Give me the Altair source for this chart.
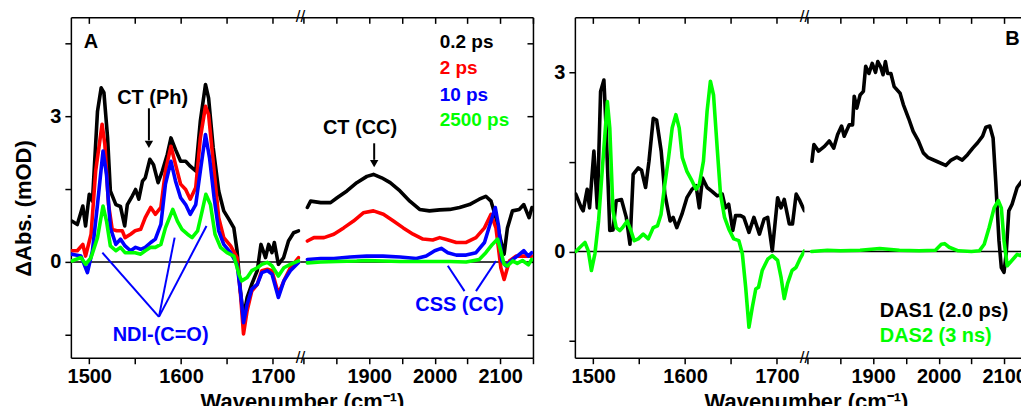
import altair as alt
import pandas as pd

FONT = "Liberation Sans"
BLACK, RED, BLUE, GREEN = "#000000", "#ff0000", "#0000ff", "#00ff00"

# ---------------- Panel A, 1480-1730 cm-1 ----------------
A_L_K_WN = [1481, 1487, 1493, 1496, 1500, 1503.5, 1509, 1513, 1516, 1520, 1523, 1529, 1534, 1538.6, 1541.5, 1547, 1550.5, 1554, 1558, 1561, 1566, 1570, 1575, 1579.6, 1585, 1589, 1594, 1599.5, 1605, 1610, 1616, 1621, 1626.6, 1630, 1635, 1641, 1646.5, 1652, 1657.5, 1661, 1664.7, 1668, 1672, 1677, 1683, 1687, 1692, 1695.4, 1699, 1701.6, 1706, 1711.7, 1717, 1722.6, 1728]
A_L_K = [0.84, 0.77, 1.15, 0.74, 1.39, 1.25, 3.1, 3.58, 3.48, 2.55, 1.46, 1.18, 1.14, 0.74, 1.18, 1.36, 1.49, 1.29, 1.66, 1.73, 2.11, 2.0, 1.63, 1.87, 2.21, 2.55, 2.31, 2.07, 2.07, 1.97, 1.87, 2.9, 3.65, 3.37, 2.35, 1.46, 1.05, 0.88, 0.70, 0.23, -0.6, -1.14, -0.73, -0.46, -0.18, 0.36, 0.09, 0.36, 0.19, 0.40, -0.05, 0.09, 0.43, 0.60, 0.64]

A_L_R_WN = [1481, 1487, 1493, 1496, 1502, 1507, 1514, 1517, 1521, 1525, 1530, 1536, 1539, 1545, 1550, 1556, 1561, 1567, 1572, 1578, 1583, 1589, 1594, 1599.5, 1605, 1610, 1616, 1621, 1626.6, 1630, 1636, 1641, 1646.5, 1654, 1661, 1665, 1668, 1672, 1677, 1683, 1688, 1694, 1699, 1706, 1712, 1719, 1728]
A_L_R = [0.23, 0.23, 0.36, 0.12, 0.57, 1.87, 2.83, 2.42, 1.18, 0.67, 0.64, 0.64, 0.50, 0.57, 0.64, 0.67, 0.91, 1.12, 0.98, 1.12, 1.87, 2.38, 2.0, 1.6, 1.49, 1.29, 1.53, 2.55, 3.2, 3.03, 1.87, 0.91, 0.50, 0.33, 0.09, -0.73, -1.48, -1.0, -0.6, -0.46, -0.18, -0.15, -0.18, -0.66, -0.39, -0.12, 0.09]

A_L_B_WN = [1481, 1491, 1498, 1503.5, 1509, 1515, 1518.8, 1523, 1529, 1534, 1539, 1545, 1550.5, 1556, 1561, 1567, 1572, 1578, 1583, 1589, 1594, 1599.5, 1605, 1610, 1616, 1621, 1626.6, 1631, 1636, 1641, 1646.5, 1654, 1661, 1665, 1668, 1672, 1677, 1683, 1688, 1694, 1699, 1706, 1712, 1719, 1728]
A_L_B = [0.16, 0.12, -0.22, 0.23, 1.18, 2.28, 1.80, 0.70, 0.36, 0.47, 0.33, 0.23, 0.30, 0.26, 0.30, 0.40, 0.47, 0.77, 1.60, 2.07, 1.66, 1.32, 1.18, 0.98, 1.18, 1.87, 2.62, 2.14, 1.32, 0.64, 0.36, 0.19, -0.05, -0.66, -1.25, -0.87, -0.56, -0.46, -0.22, -0.18, -0.25, -0.73, -0.39, -0.18, -0.01]

A_L_G_WN = [1481, 1491, 1496, 1502, 1509, 1515, 1518.8, 1523, 1529, 1534, 1539, 1545, 1550, 1556, 1561, 1567, 1572, 1578, 1583, 1591, 1596, 1601, 1607, 1612, 1618, 1623, 1627, 1632, 1637, 1643, 1650, 1657.5, 1663, 1666, 1672, 1677, 1683, 1688, 1694, 1699, 1706, 1712, 1719, 1728]
A_L_G = [0.02, 0.09, -0.05, 0.09, 0.50, 1.15, 0.84, 0.33, 0.23, 0.30, 0.19, 0.19, 0.19, 0.16, 0.23, 0.30, 0.30, 0.36, 0.70, 1.08, 0.84, 0.67, 0.57, 0.50, 0.64, 1.05, 1.39, 1.18, 0.57, 0.30, 0.19, 0.12, -0.25, -0.39, -0.32, -0.18, -0.12, -0.05, -0.01, -0.08, -0.29, -0.12, -0.05, 0.02]

# ---------------- Panel A, 1795-2150 cm-1 ----------------
A_R_K_WN = [1805.6, 1810.6, 1826, 1841, 1851, 1866, 1881, 1896.5, 1906.5, 1919, 1932, 1947, 1962, 1977, 1992, 2007.6, 2023, 2038, 2053, 2068, 2078, 2086, 2093.5, 2101, 2106, 2111, 2118.7, 2129, 2136, 2144, 2148.5]
A_R_K = [1.12, 1.25, 1.22, 1.22, 1.32, 1.46, 1.63, 1.76, 1.80, 1.73, 1.63, 1.46, 1.25, 1.08, 1.05, 1.07, 1.08, 1.12, 1.18, 1.29, 1.35, 1.25, 0.91, 0.43, 0.16, 0.70, 1.05, 1.08, 1.18, 0.91, 1.12]

A_R_R_WN = [1805.6, 1815.6, 1831, 1846, 1861, 1876, 1891, 1906.5, 1921.7, 1937, 1952, 1967, 1982, 1997, 2007.6, 2018, 2033, 2048, 2063, 2076, 2086, 2093.5, 2101, 2106, 2114, 2124, 2134, 2148]
A_R_R = [0.43, 0.50, 0.50, 0.57, 0.70, 0.84, 1.01, 1.05, 0.98, 0.84, 0.70, 0.57, 0.47, 0.45, 0.50, 0.46, 0.40, 0.40, 0.50, 0.70, 0.98, 0.70, -0.12, -0.36, 0.02, 0.12, 0.12, 0.12]

A_R_B_WN = [1805.6, 1826, 1846, 1871, 1896, 1921, 1947, 1972, 1987, 2000, 2010, 2020, 2033, 2048, 2063, 2076, 2086, 2092.5, 2097.5, 2102.6, 2108.6, 2119, 2126, 2136, 2143, 2148]
A_R_B = [0.05, 0.07, 0.07, 0.10, 0.12, 0.12, 0.10, 0.07, 0.12, 0.23, 0.28, 0.19, 0.14, 0.14, 0.19, 0.40, 0.84, 1.12, 0.74, 0.02, -0.08, 0.05, 0.12, 0.23, 0.12, 0.19]

A_R_G_WN = [1805.6, 1826, 1851, 1881, 1896, 1921, 1947, 1972, 1997, 2023, 2048, 2068, 2078, 2088, 2096, 2101, 2106, 2111, 2119, 2126, 2134, 2143, 2148]
A_R_G = [-0.02, 0.0, 0.01, 0.02, 0.03, 0.02, 0.01, 0.01, 0.01, 0.01, 0.0, 0.05, 0.19, 0.36, 0.47, 0.22, -0.05, -0.08, 0.02, -0.03, 0.03, -0.06, 0.05]

# ---------------- Panel B, 1480-1730 cm-1 ----------------
B_L_K_WN = [1481, 1487, 1489, 1493.4, 1496, 1500.7, 1504.4, 1508, 1511.6, 1514, 1518, 1521.5, 1525, 1530.7, 1536, 1540, 1543.5, 1549, 1552.6, 1557, 1560.7, 1565.4, 1569, 1574, 1578, 1583.7, 1587, 1591, 1596.5, 1602, 1607.5, 1612, 1615.5, 1619, 1624, 1629, 1635, 1640.5, 1644, 1647.5, 1652, 1655, 1660.5, 1664, 1669.6, 1675, 1681, 1686, 1690, 1695, 1700.8, 1704.5, 1708, 1713.5, 1717, 1721, 1725, 1730]
B_L_K = [0.96, 0.73, 0.68, 1.04, 0.73, 1.68, 0.73, 2.68, 2.87, 2.07, 0.35, 0.36, 0.85, 0.87, 0.57, 0.12, 1.29, 1.40, 1.36, 1.07, 1.51, 2.23, 2.20, 1.68, 0.96, 0.51, 0.57, 0.40, 0.62, 0.90, 1.04, 1.10, 0.73, 1.23, 1.07, 1.01, 0.93, 0.96, 0.73, 0.79, 0.35, 0.60, 0.60, 0.57, 0.32, 0.57, 0.29, 0.54, 0.57, 0.01, 0.90, 0.73, 0.87, 0.46, 0.46, 0.96, 0.85, 0.68]

B_L_G_WN = [1481, 1487, 1491, 1494.6, 1498, 1501.8, 1505.8, 1510.5, 1515.4, 1518, 1521.5, 1525, 1529, 1532, 1537, 1541, 1544.6, 1549, 1554.4, 1560, 1565.4, 1570, 1573.8, 1577.5, 1582, 1586, 1590, 1593.6, 1597, 1602, 1607.6, 1612, 1615.5, 1620, 1624, 1627.6, 1631, 1635, 1638.6, 1643, 1647.8, 1653, 1658.6, 1662.4, 1666, 1669.6, 1673.3, 1677, 1680, 1684, 1690, 1695, 1700.8, 1704.5, 1708, 1711.6, 1716.5, 1720.8, 1725, 1730]
B_L_G = [0.0, 0.09, 0.15, 0.01, -0.32, -0.04, 0.51, 1.51, 2.51, 2.07, 0.68, 0.40, 0.35, 0.40, 0.51, 0.35, 0.18, 0.21, 0.29, 0.21, 0.40, 0.43, 0.62, 1.07, 1.57, 2.07, 2.29, 2.07, 1.57, 1.34, 1.18, 1.04, 1.12, 1.51, 2.35, 2.85, 2.62, 1.73, 0.96, 0.57, 0.37, 0.21, 0.18, -0.04, -0.60, -1.27, -0.93, -0.63, -0.60, -0.32, -0.13, -0.07, -0.15, -0.43, -0.79, -0.54, -0.32, -0.27, -0.13, 0.01]

# ---------------- Panel B, 1795-2150 cm-1 ----------------
B_R_K_WN = [1806.5, 1809.5, 1816.6, 1825.6, 1833, 1839.7, 1845.7, 1851.7, 1855.7, 1863.4, 1868.5, 1871, 1875, 1880, 1885, 1888.5, 1893.5, 1898.5, 1903.5, 1907, 1911, 1915, 1918.6, 1922, 1927, 1932, 1941, 1946, 1954, 1961, 1969, 1976.5, 1984, 1996.5, 2010.7, 2019, 2027.7, 2036, 2044, 2052, 2059.4, 2067, 2072, 2078, 2083, 2087, 2092, 2095.6, 2099.7, 2103, 2107, 2112, 2119.7, 2127, 2135, 2145]
B_R_K = [1.51, 1.79, 1.68, 1.76, 1.85, 1.73, 1.96, 2.10, 1.93, 2.12, 2.12, 2.60, 2.40, 2.62, 2.68, 3.10, 2.98, 3.15, 3.00, 3.18, 3.10, 2.96, 3.18, 2.98, 2.98, 2.76, 2.65, 2.46, 2.23, 2.01, 1.85, 1.65, 1.57, 1.51, 1.44, 1.53, 1.58, 1.53, 1.62, 1.73, 1.82, 1.93, 2.08, 2.10, 1.90, 1.18, 0.18, -0.27, -0.35, -0.04, 0.68, 0.79, 1.07, 1.18, 1.26, 1.30]

B_R_G_WN = [1806, 1830, 1850, 1880, 1910, 1940, 1970, 1995, 2004, 2009, 2016, 2030, 2050, 2062, 2069.5, 2077, 2084.6, 2091, 2095.6, 2099.7, 2104.6, 2111, 2119.7, 2124.5, 2132, 2140]
B_R_G = [0.0, 0.02, 0.01, 0.02, 0.05, 0.02, 0.01, 0.02, 0.12, 0.13, 0.07, 0.01, 0.0, 0.01, 0.12, 0.40, 0.73, 0.85, 0.73, 0.18, -0.24, -0.16, -0.05, -0.07, 0.0, 0.02]

# ---------------- texts ----------------
LEGEND_TEXT = ["0.2 ps", "2 ps", "10 ps", "2500 ps"]
LEGEND_COLOR = [BLACK, RED, BLUE, GREEN]
LEGEND_Y = [4.40, 3.86, 3.31, 2.79]
DAS_TEXT = ["DAS1 (2.0 ps)", "DAS2 (3 ns)"]
DAS_COLOR = [BLACK, GREEN]
DAS_Y = [-1.09, -1.52]

# ---------------- geometry ----------------
H = 341
WL, WR = 230, 233
GAP = 42
XL = [1480, 1730]
XR = [1795, 2150]
YA = [-1.97, 5.03]
YB = [-1.78, 3.92]
TICK_L = [1500, 1550, 1600, 1650, 1700]
TICK_R = [1800, 1850, 1900, 1950, 2000, 2050, 2100, 2150]
YT_A = [-1.5, 0, 1.5, 3, 4.5]
YT_B = [-1.5, 0, 1.5, 3]
XTITLE = "Wavenumber (cm\u207b\u00b9)"

common = dict(domainColor="black", domainWidth=1.5, tickColor="black", tickWidth=1.5,
              grid=False, labelColor="black", labelFont=FONT, labelFontSize=20,
              labelFontWeight="bold")


def x_bottom(vals, with_title):
    kw = dict(common, values=vals, format="d", tickSize=6, labelPadding=3, labelAngle=0,
              labelFlush=False, labelOverlap=False,
              labelExpr="datum.value % 100 == 0 && datum.value != 1800 ? datum.label : ''")
    if with_title:
        kw.update(title=XTITLE, titleX=(WL + WR) / 2, titleY=51, titleBaseline="alphabetic",
                  titleAlign="center", titleAngle=0, titleFont=FONT, titleFontSize=22,
                  titleFontWeight="bold", titleColor="black")
    else:
        kw.update(title=None)
    return alt.Axis(**kw)


def x_top(vals):
    return alt.Axis(**dict(common, orient="bottom", offset=-H, values=vals, labels=False,
                           tickSize=6, title=None))


def y_left(vals, with_title):
    kw = dict(common, values=vals, tickSize=6, labelPadding=4,
              labelExpr="datum.value == 0 ? '0' : (datum.value == 3 ? '3' : '')")
    if with_title:
        kw.update(title="\u0394Abs. (mOD)", titleX=-35, titleY=191, titleAngle=270,
                  titleBaseline="bottom", titleAlign="center", titleFont=FONT,
                  titleFontSize=22, titleFontWeight="bold", titleColor="black")
    else:
        kw.update(title=None)
    return alt.Axis(**kw)


def y_right(vals, W):
    return alt.Axis(**dict(common, orient="left", offset=-W, values=vals, labels=False,
                           tickSize=6, title=None))


def df(wn, v):
    return pd.DataFrame({"wn": wn, "v": v})


def texts(xs, ys, ts, cs):
    return pd.DataFrame({"x": xs, "y": ys, "t": ts, "c": cs})


def segment(series, xdom, ydom, W, ticks, yticks, left=False, ytitle=False, right=False,
            xtitle=False, brk=False, extra=None):
    xs = alt.Scale(domain=xdom, nice=False, zero=False)
    ys = alt.Scale(domain=ydom, nice=False, zero=False)
    layers = [alt.Chart(pd.DataFrame({"z": [0]})).mark_rule(color="black", strokeWidth=1.5)
              .encode(y=alt.Y("z:Q", scale=ys, axis=None))]
    for i, (wn, v, col) in enumerate(series):
        layers.append(
            alt.Chart(df(wn, v)).mark_line(color=col, strokeWidth=3.6, clip=True,
                                           strokeJoin="round", strokeCap="round")
            .encode(x=alt.X("wn:Q", scale=xs, axis=x_bottom(ticks, xtitle) if i == 0 else None),
                    y=alt.Y("v:Q", scale=ys,
                            axis=y_left(yticks, ytitle) if (i == 0 and left) else None)))
    wn0, v0, _ = series[0]
    layers.append(
        alt.Chart(df(wn0, v0)).mark_point(opacity=0)
        .encode(x=alt.X("wn:Q", scale=xs, axis=x_top(ticks)),
                y=alt.Y("v:Q", scale=ys, axis=y_right(yticks, W) if right else None)))
    if brk:
        layers.append(
            alt.Chart(texts([xdom[1], xdom[1]], [ydom[1], ydom[0]], ["//", "//"], [BLACK, BLACK]))
            .mark_text(font=FONT, fontSize=17, baseline="middle", align="center", color="black")
            .encode(x=alt.X("x:Q", scale=xs, axis=None), y=alt.Y("y:Q", scale=ys, axis=None),
                    text="t:N"))
    for mk in (extra or []):
        layers.append(mk(xs, ys))
    return (alt.layer(*layers)
            .resolve_axis(x="independent", y="independent")
            .properties(width=W, height=H,
                        view=alt.ViewBackground(stroke="transparent", strokeWidth=0)))


def label_layer(d, size=20, align="center"):
    def f(xs, ys):
        return (alt.Chart(d).mark_text(font=FONT, fontSize=size, fontWeight="bold",
                                       align=align, baseline="alphabetic")
                .encode(x=alt.X("x:Q", scale=xs, axis=None), y=alt.Y("y:Q", scale=ys, axis=None),
                        text="t:N", color=alt.Color("c:N", scale=None)))
    return f


def seg_layer(x, y, x2, y2, color, width=2.0):
    d = pd.DataFrame({"x": x, "y": y, "x2": x2, "y2": y2})

    def f(xs, ys):
        return (alt.Chart(d).mark_rule(color=color, strokeWidth=width)
                .encode(x=alt.X("x:Q", scale=xs, axis=None), y=alt.Y("y:Q", scale=ys, axis=None),
                        x2="x2:Q", y2="y2:Q"))
    return f


def head_layer(x, y):
    d = pd.DataFrame({"x": [x], "y": [y]})

    def f(xs, ys):
        return (alt.Chart(d).mark_point(shape="triangle-down", filled=True, size=70,
                                        color="black", opacity=1, strokeWidth=0)
                .encode(x=alt.X("x:Q", scale=xs, axis=None), y=alt.Y("y:Q", scale=ys, axis=None)))
    return f


A1 = segment(
    [(A_L_K_WN, A_L_K, BLACK), (A_L_R_WN, A_L_R, RED), (A_L_B_WN, A_L_B, BLUE), (A_L_G_WN, A_L_G, GREEN)],
    XL, YA, WL, TICK_L, YT_A, left=True, ytitle=True, xtitle=True, brk=True,
    extra=[
        label_layer(texts([1494], [4.39], ["A"], [BLACK]), align="left"),
        label_layer(texts([1569], [3.24], ["CT (Ph)"], [BLACK])),
        seg_layer([1565], [3.16], [1565], [2.5], BLACK),
        head_layer(1565, 2.42),
        seg_layer([1575.9, 1575.9, 1575.9], [-1.13, -1.13, -1.13],
                  [1514.3, 1593, 1627.7], [0.19, 0.50, 0.74], BLUE),
        label_layer(texts([1577.7], [-1.62], ["NDI-(C=O)"], [BLUE])),
    ])

A2 = segment(
    [(A_R_K_WN, A_R_K, BLACK), (A_R_R_WN, A_R_R, RED), (A_R_B_WN, A_R_B, BLUE), (A_R_G_WN, A_R_G, GREEN)],
    XR, YA, WR, TICK_R, YT_A, right=True,
    extra=[
        label_layer(texts([2007.6] * 4, LEGEND_Y, LEGEND_TEXT, LEGEND_COLOR), size=19, align="left"),
        label_layer(texts([1886], [2.63], ["CT (CC)"], [BLACK])),
        seg_layer([1907.6], [2.44], [1907.6], [2.1], BLACK),
        head_layer(1907.6, 2.02),
        seg_layer([2045.5, 2063], [-0.6, -0.6], [2020, 2093.5], [-0.08, 0.02], BLUE),
        label_layer(texts([2038], [-1.0], ["CSS (CC)"], [BLUE])),
    ])

B1 = segment(
    [(B_L_K_WN, B_L_K, BLACK), (B_L_G_WN, B_L_G, GREEN)],
    XL, YB, WL, TICK_L, YT_B, left=True, xtitle=True, brk=True)

B2 = segment(
    [(B_R_K_WN, B_R_K, BLACK), (B_R_G_WN, B_R_G, GREEN)],
    XR, YB, WR, TICK_R, YT_B, right=False,
    extra=[
        label_layer(texts([2101.5], [3.46], ["B"], [BLACK]), align="left"),
        label_layer(texts([1910, 1910], DAS_Y, DAS_TEXT, DAS_COLOR), align="left"),
    ])

# empty gap between the two panels (no marks drawn)
spacer = (alt.Chart(pd.DataFrame({"a": [0]})).mark_point(opacity=0)
          .encode(x=alt.X("a:Q", axis=None), y=alt.Y("a:Q", axis=None))
          .properties(width=GAP, height=H,
                      view=alt.ViewBackground(stroke="transparent", strokeWidth=0)))

chart = (alt.hconcat(A1, A2, spacer, B1, B2, spacing=0, bounds="flush")
         .properties(padding={"left": 5, "top": 0, "right": -17, "bottom": -7})
         .configure_view(stroke="transparent", strokeWidth=0)
         .configure_axis(grid=False)
         .configure(background="white"))

chart.save("out.html", embed_options={"renderer": "svg", "actions": False})
